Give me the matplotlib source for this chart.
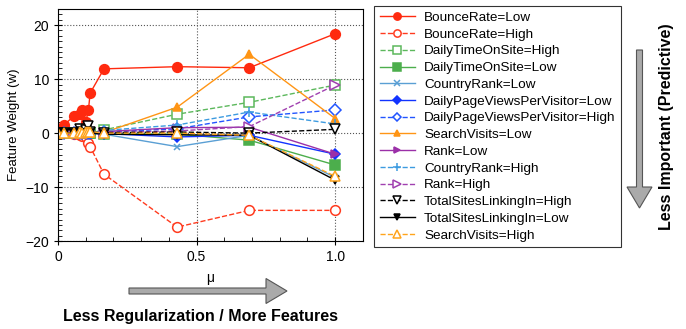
import matplotlib
matplotlib.use("Agg")
import matplotlib.pyplot as plt
from matplotlib.patches import FancyArrow
from matplotlib.ticker import MultipleLocator

plt.rcParams['font.family'] = ['Liberation Sans', 'DejaVu Sans']

mu = [0, 0.022, 0.058, 0.079, 0.087, 0.10, 0.11, 0.116, 0.166, 0.43, 0.69, 1.0]

bounce_low = [0, 1.5, 3.2, 3.5, 4.3, 2.0, 4.3, 7.4, 11.9, 12.3, 12.1, 18.4]
bounce_high = [0, 0, -0.1, -0.3, -0.5, -0.7, -1.8, -2.5, -7.6, -17.4, -14.3, -14.3]
time_high = [0, 0, 0, 0, 0, 0, 0, 0, 0.6, 3.5, 5.7, 8.9]
time_low = [0, 0, 0, 0, 0, 0, 0, 0, -0.1, -0.2, -1.3, -5.9]
crank_low = [0, 0, 0, 0, 0, 0, 0, 0, -0.2, -2.5, -0.4, -8.2]
views_low = [0, 0, 0, 0, 0, 0, 0, 0, -0.1, -0.7, -0.4, -3.9]
views_high = [0, 0, 0, 0, 0, 0, 0, 0, 0.2, 0.8, 3.0, 4.3]
search_low = [0, 0, 0, 0, 0, 0, 0, 0, 0.1, 4.8, 14.6, 2.7]
rank_low = [0, 0, 0, 0, 0, 0, 0, 0, 0.3, 1.0, 1.1, -3.9]
crank_high = [0, 0, 0, 0, 0, 0, 0, 0, 0.5, 1.5, 3.9, 1.7]
rank_high = [0, 0, 0, 0, 0, 0, 0, 0, 0.1, 0.4, 1.2, 8.9]
links_high = [0, 0, 0, 0.7, 0.3, 0.5, 1.3, 0.2, 0.1, 0.2, 0.0, 0.7]
links_low = [0, 0, 0, 0, 0, 0, 0, 0, -0.2, -0.3, -0.4, -8.7]
search_high = [0, 0, 0, 0.2, 0.1, 0.3, 0.2, 0.3, 0.0, 0.0, -0.4, -8.0]

# (label, values, color, linestyle, marker, filled, markersize)
series = [
    ("BounceRate=Low", bounce_low, "#ff2a0f", "-", "o", True, 7),
    ("BounceRate=High", bounce_high, "#ff3b1f", "--", "o", False, 7),
    ("DailyTimeOnSite=High", time_high, "#5cb85c", "--", "s", False, 7),
    ("DailyTimeOnSite=Low", time_low, "#4cae4c", "-", "s", True, 7),
    ("CountryRank=Low", crank_low, "#5a9fd4", "-", "x", True, 5),
    ("DailyPageViewsPerVisitor=Low", views_low, "#1133ff", "-", "D", True, 5),
    ("DailyPageViewsPerVisitor=High", views_high, "#2255ff", "--", "D", False, 6),
    ("SearchVisits=Low", search_low, "#ff9515", "-", "^", True, 6),
    ("Rank=Low", rank_low, "#9b30a8", "-", ">", True, 6),
    ("CountryRank=High", crank_high, "#3d9be0", "--", "+", True, 7),
    ("Rank=High", rank_high, "#a040b0", "--", ">", False, 7),
    ("TotalSitesLinkingIn=High", links_high, "#000000", "--", "v", False, 7),
    ("TotalSitesLinkingIn=Low", links_low, "#000000", "-", "v", True, 6),
    ("SearchVisits=High", search_high, "#ffa41c", "--", "^", False, 7),
]

fig = plt.figure(figsize=(6.86, 3.29), dpi=100)
ax = fig.add_axes([0.0845, 0.267, 0.4445, 0.706])

for label, vals, c, ls, m, filled, ms in series:
    ax.plot(mu, vals, color=c, linestyle=ls, marker=m, markersize=ms,
            markerfacecolor=c if filled else "white", markeredgecolor=c,
            markeredgewidth=1.1, linewidth=1.0, label=label)

ax.set_xlim(0, 1.1)
ax.set_ylim(-20, 23)
ax.set_xticks([0, 0.5, 1.0])
ax.set_xticklabels(["0", "0.5", "1.0"])
ax.set_yticks([-20, -10, 0, 10, 20])
ax.xaxis.set_minor_locator(MultipleLocator(0.1))
ax.yaxis.set_minor_locator(MultipleLocator(1))
ax.tick_params(which="major", direction="inout", length=6, labelsize=10)
ax.tick_params(which="minor", direction="in", length=3)
ax.grid(True, which="major", linestyle=":", color="#555555", linewidth=0.8)
ax.set_ylabel("Feature Weight (w)", fontsize=9.5)
ax.set_xlabel("μ", fontsize=10, labelpad=5)

leg = fig.legend(loc="upper left", bbox_to_anchor=(0.545, 0.982), fontsize=9.7,
                 fancybox=False, edgecolor="black", markerscale=0.75,
                 handlelength=2.6, labelspacing=0.32, borderpad=0.42,
                 handletextpad=0.7, borderaxespad=0)
leg.get_frame().set_linewidth(0.8)

tr = fig.dpi_scale_trans
fig.add_artist(FancyArrow(1.29, 0.38, 1.58, 0, width=0.06, head_width=0.25,
                          head_length=0.21, length_includes_head=True,
                          facecolor="#aaaaaa", edgecolor="#555555",
                          linewidth=0.8, transform=tr))
fig.add_artist(FancyArrow(6.395, 2.79, 0, -1.58, width=0.06, head_width=0.25,
                          head_length=0.21, length_includes_head=True,
                          facecolor="#aaaaaa", edgecolor="#555555",
                          linewidth=0.8, transform=tr))

fig.text(2.01 / 6.86, 0.12 / 3.29, "Less Regularization / More Features",
         fontsize=11.5, fontweight="bold", ha="center", va="center")
fig.text(6.67 / 6.86, 2.02 / 3.29, "Less Important (Predictive)",
         fontsize=11.5, fontweight="bold", ha="center", va="center",
         rotation=90)

fig.savefig("out.png", dpi=100)
